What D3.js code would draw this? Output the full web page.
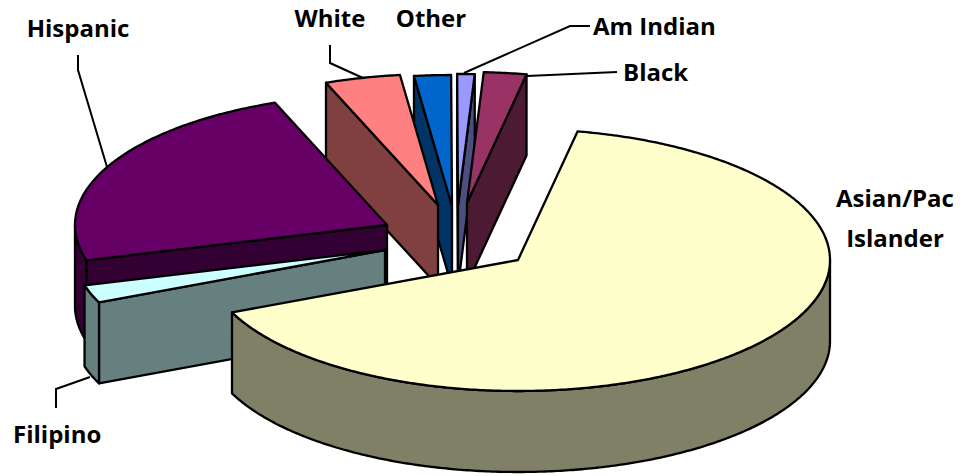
<!DOCTYPE html>
<html>
<head>
<meta charset="utf-8">
<script src="https://cdn.jsdelivr.net/npm/d3@7"></script>
<style>
html,body{margin:0;padding:0;background:#fff;}
svg{display:block;}
text{font-family:"Open Sans",Lato,sans-serif;font-weight:700;font-size:24px;fill:#000;}
</style>
</head>
<body>
<svg id="chart" width="963" height="476"></svg>
<script>
// Data (percent of total)
const categories = ["Asian/Pac Islander","Filipino","Hispanic","White","Other","Am Indian","Black"];
const shares = [65.4,2.2,23.5,3.9,1.9,0.9,2.2];
const topColors = ["#FFFFCC","#CCFFFF","#660066","#FF8080","#0066CC","#9999FF","#993366"];
const sideColors = ["#808066","#668080","#330033","#804040","#003366","#4D4D80","#4D1A33"];
// paint order, back to front (index into categories)
const paintOrder = [4,5,6,3,2,1,0];

// Layout
const W = 963, H = 476;
const rx = 312, ry = 131, depth = 81;
const cx = 460, cy = 240;
const firstAngle = 11 * Math.PI / 180;
// pull-out of each slice's apex from the pie centre, px
const explode = [[58,20],[-75,10],[-73,-15],[-22,-35],[-8,-34],[-2,-35],[7,-37]];

const labels = [
  {lines:["Hispanic"], x:78, y:37, anchor:"middle"},
  {lines:["White"], x:330, y:27, anchor:"middle"},
  {lines:["Other"], x:431, y:27, anchor:"middle"},
  {lines:["Am Indian"], x:593, y:35, anchor:"start"},
  {lines:["Black"], x:623, y:81, anchor:"start"},
  {lines:["Asian/Pac","Islander"], x:895, y:207, anchor:"middle"},
  {lines:["Filipino"], x:13, y:443, anchor:"start"}
];
const leaders = [
  [[78,55],[78,70],[107,167]],
  [[330,45],[330,63],[363,78]],
  [[590,26],[570,26],[464,73]],
  [[617,72],[527,76]],
  [[56,408],[56,389],[90,377]]
];

const svg = d3.select("#chart");
const sx = d3.scaleLinear().domain([-1,1]).range([-rx,rx]);
const sy = d3.scaleLinear().domain([-1,1]).range([-ry,ry]);
const pie = d3.pie().sort(null).value(d=>d).startAngle(firstAngle).endAngle(firstAngle+2*Math.PI);
const arcs = pie(shares);
const line = d3.line();
const pt = (o,a,dz=0)=>[cx+o[0]+sx(Math.sin(a)), cy+o[1]+sy(-Math.cos(a))+dz];
const apex = (o,dz=0)=>[cx+o[0], cy+o[1]+dz];
const sample = (a0,a1)=>{
  const n = Math.max(2, Math.ceil(Math.abs(a1-a0)/0.01));
  return d3.range(n+1).map(i=>a0+(a1-a0)*i/n);
};
const strokeStyle = s=>s.attr("stroke","#000").attr("stroke-width",2.3).attr("stroke-linejoin","round");

// leader lines go below the slices
const gLead = svg.append("g");
gLead.selectAll("path").data(leaders).join("path")
  .attr("d",d=>line(d)).attr("fill","none").attr("stroke","#000").attr("stroke-width",2);

paintOrder.forEach(i=>{
  const d = arcs[i], o = explode[i], g = svg.append("g").attr("class","slice");
  const a0 = d.startAngle, a1 = d.endAngle;
  // radial walls facing the viewer
  if (Math.sin(a0) < -0.001) {
    g.append("path").attr("d",line([apex(o),pt(o,a0),pt(o,a0,depth),apex(o,depth)])+"Z")
      .attr("fill",sideColors[i]).call(strokeStyle);
  }
  if (Math.sin(a1) > 0.001) {
    g.append("path").attr("d",line([apex(o),pt(o,a1),pt(o,a1,depth),apex(o,depth)])+"Z")
      .attr("fill",sideColors[i]).call(strokeStyle);
  }
  // outer rim, lower half of the ellipse only
  const r0 = Math.max(a0,Math.PI/2), r1 = Math.min(a1,3*Math.PI/2);
  if (r1 > r0) {
    const as = sample(r0,r1);
    g.append("path").attr("d",line(as.map(a=>pt(o,a)).concat(as.slice().reverse().map(a=>pt(o,a,depth))))+"Z")
      .attr("fill",sideColors[i]).call(strokeStyle);
  }
  // top face
  g.append("path").attr("d",line([apex(o)].concat(sample(a0,a1).map(a=>pt(o,a))))+"Z")
    .attr("fill",topColors[i]).call(strokeStyle);
});

labels.forEach(l=>{
  const t = svg.append("text").attr("text-anchor",l.anchor);
  l.lines.forEach((s,j)=>t.append("tspan").attr("x",l.x).attr("y",l.y+j*40).text(s));
});
</script>
</body>
</html>
